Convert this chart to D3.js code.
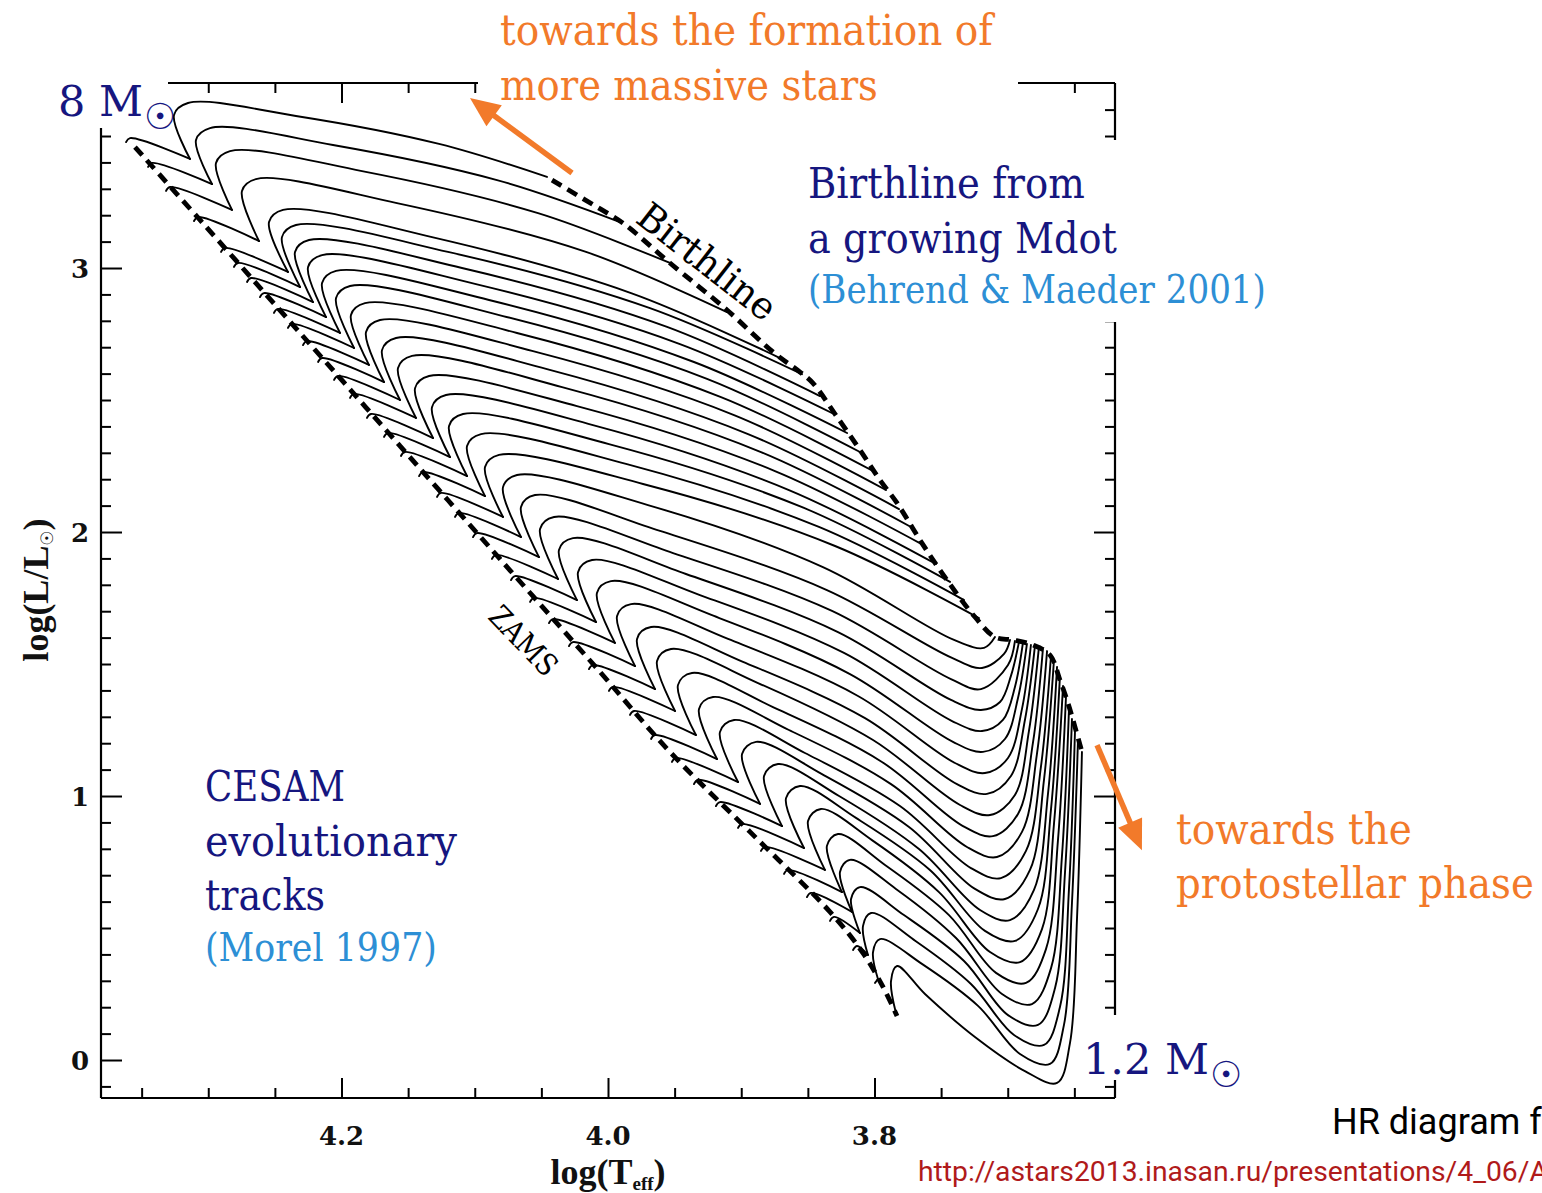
<!DOCTYPE html>
<html>
<head>
<meta charset="utf-8">
<script src="https://cdn.jsdelivr.net/npm/d3@7"></script>
<style>
  html, body { margin: 0; padding: 0; background: #fff; overflow: hidden; }
  svg { display: block; }
</style>
</head>
<body>
<svg id="chart" width="1542" height="1193"></svg>
<script>
// ---- axis ticks ----
const tempMajorTicks = [4.2, 4.0, 3.8];
const tempTickLabels = ["4.2", "4.0", "3.8"];
const tempMinorTicks = [4.35, 4.30, 4.25, 4.15, 4.10, 4.05, 3.95, 3.90, 3.85, 3.75, 3.70, 3.65];
const lumMajorTicks = [0, 1, 2, 3];
const lumTickLabels = ["0", "1", "2", "3"];
const lumMinorTicks = [-0.1, 0.1, 0.2, 0.3, 0.4, 0.5, 0.6, 0.7, 0.8, 0.9, 1.1, 1.2, 1.3, 1.4, 1.5, 1.6, 1.7, 1.8, 1.9,
                       2.1, 2.2, 2.3, 2.4, 2.5, 2.6, 2.7, 2.8, 2.9, 3.1, 3.2, 3.3, 3.4, 3.5, 3.6];

// ---- birthline (Behrend & Maeder 2001), [log Teff, log L/Lsun] ----
const birthline = [[4.0420,3.333],[4.0083,3.231],[3.9887,3.170],[3.9535,3.019],[3.9107,2.841],[3.8762,2.682],
  [3.8559,2.606],[3.8462,2.564],[3.8281,2.436],[3.8109,2.311],[3.7959,2.197],[3.7831,2.110],[3.7644,1.958],
  [3.7456,1.818],[3.7246,1.678],[3.7096,1.602],[3.6961,1.591],[3.6811,1.572],[3.6683,1.534],[3.6608,1.439],
  [3.6548,1.352],[3.6495,1.261],[3.6443,1.167]];

// ---- zero-age main sequence ----
const zams = [[4.3550,3.458],[4.3062,3.182],[4.2311,2.754],[4.1561,2.326],[4.0811,1.898],[4.0060,1.470],
  [3.9535,1.167],[3.8934,0.864],[3.8334,0.561],[3.8086,0.405],[3.7936,0.277],[3.7831,0.167]];

// ---- CESAM pre-main-sequence tracks, 8 Msun (first) to 1.2 Msun (last) ----
// each track: [path from the birthline to the cusp, path from the cusp onto the ZAMS]
const tracks = [
  [[[4.0458,3.345],[4.1268,3.470],[4.2342,3.576],[4.3152,3.625],[4.3257,3.580],[4.3137,3.413]],[[4.3587,3.492],[4.3617,3.477]]],
  [[[3.9910,3.174],[4.0833,3.333],[4.2064,3.466],[4.2987,3.530],[4.3092,3.485],[4.2972,3.318]],[[4.3422,3.398],[4.3452,3.383]]],
  [[[3.9535,3.019],[4.0525,3.208],[4.1846,3.367],[4.2837,3.443],[4.2942,3.398],[4.2822,3.220]],[[4.3287,3.307],[4.3317,3.292]]],
  [[[3.9107,2.833],[4.0165,3.061],[4.1584,3.246],[4.2642,3.337],[4.2747,3.292],[4.2619,3.102]],[[4.3077,3.193],[4.3107,3.178]]],
  [[[3.8709,2.659],[3.9827,2.905],[4.1321,3.117],[4.2439,3.220],[4.2544,3.174],[4.2402,2.985]],[[4.2874,3.076],[4.2904,3.061]]],
  [[[3.8544,2.598],[3.9685,2.848],[4.1201,3.061],[4.2342,3.163],[4.2447,3.117],[4.2311,2.928]],[[4.2777,3.019],[4.2807,3.004]]],
  [[[3.8409,2.515],[3.9557,2.777],[4.1096,3.000],[4.2244,3.106],[4.2349,3.061],[4.2214,2.871]],[[4.2679,2.962],[4.2709,2.947]]],
  [[[3.8304,2.447],[3.9460,2.712],[4.0991,2.939],[4.2146,3.049],[4.2251,3.004],[4.2116,2.814]],[[4.2582,2.905],[4.2612,2.890]]],
  [[[3.8206,2.375],[3.9355,2.644],[4.0893,2.879],[4.2041,2.989],[4.2146,2.943],[4.2011,2.754]],[[4.2477,2.845],[4.2507,2.830]]],
  [[[3.8109,2.303],[3.9257,2.580],[4.0788,2.818],[4.1936,2.932],[4.2041,2.886],[4.1906,2.697]],[[4.2372,2.788],[4.2402,2.773]]],
  [[[3.8011,2.231],[3.9152,2.511],[4.0683,2.754],[4.1824,2.867],[4.1929,2.822],[4.1794,2.633]],[[4.2259,2.723],[4.2289,2.708]]],
  [[[3.7914,2.159],[3.9054,2.443],[4.0570,2.686],[4.1711,2.803],[4.1816,2.758],[4.1681,2.568]],[[4.2146,2.659],[4.2176,2.644]]],
  [[[3.7816,2.087],[3.8949,2.371],[4.0458,2.617],[4.1591,2.735],[4.1696,2.689],[4.1561,2.500]],[[4.2026,2.591],[4.2056,2.576]]],
  [[[3.7726,2.019],[3.8852,2.303],[4.0345,2.549],[4.1471,2.667],[4.1576,2.621],[4.1441,2.432]],[[4.1906,2.523],[4.1936,2.508]]],
  [[[3.7636,1.951],[3.8747,2.231],[4.0233,2.477],[4.1343,2.591],[4.1448,2.545],[4.1313,2.356]],[[4.1779,2.447],[4.1809,2.432]]],
  [[[3.7539,1.879],[3.8642,2.159],[4.0113,2.405],[4.1216,2.519],[4.1321,2.473],[4.1186,2.284]],[[4.1651,2.375],[4.1681,2.360]]],
  [[[3.7433,1.811],[3.8529,2.091],[3.9993,2.333],[4.1088,2.447],[4.1193,2.402],[4.1058,2.212]],[[4.1524,2.303],[4.1554,2.288]]],
  [[[3.7328,1.742],[3.8417,2.019],[3.9865,2.258],[4.0953,2.371],[4.1058,2.326],[4.0923,2.136]],[[4.1388,2.227],[4.1418,2.212]]],
  [[[3.7216,1.674],[3.8296,1.947],[3.9737,2.182],[4.0818,2.292],[4.0923,2.246],[4.0788,2.057]],[[4.1253,2.148],[4.1283,2.133]]],
  [[[3.7096,1.602],[3.7178,1.561],[3.7403,1.591],[3.8387,1.867],[3.9700,2.102],[4.0683,2.216],[4.0788,2.170],[4.0653,1.981]],[[4.1118,2.072],[4.1148,2.057]]],
  [[[3.6983,1.591],[3.7028,1.538],[3.7193,1.485],[3.7418,1.523],[3.8357,1.780],[3.9610,2.004],[4.0548,2.140],[4.0653,2.095],[4.0518,1.905]],[[4.0983,1.996],[4.1013,1.981]]],
  [[[3.6946,1.587],[3.6998,1.496],[3.7201,1.405],[3.7426,1.443],[3.8319,1.701],[3.9512,1.920],[4.0405,2.057],[4.0510,2.011],[4.0375,1.822]],[[4.0841,1.913],[4.0871,1.898]]],
  [[[3.6916,1.583],[3.6976,1.455],[3.7058,1.356],[3.7201,1.326],[3.7426,1.364],[3.8274,1.621],[3.9415,1.841],[4.0263,1.977],[4.0368,1.932],[4.0233,1.742]],[[4.0698,1.833],[4.0728,1.818]]],
  [[[3.6886,1.580],[3.6946,1.413],[3.7036,1.288],[3.7193,1.246],[3.7418,1.284],[3.8229,1.542],[3.9310,1.761],[4.0120,1.894],[4.0225,1.848],[4.0090,1.659]],[[4.0555,1.750],[4.0585,1.735]]],
  [[[3.6856,1.576],[3.6923,1.371],[3.7021,1.216],[3.7186,1.167],[3.7411,1.205],[3.8184,1.462],[3.9205,1.682],[3.9978,1.814],[4.0083,1.769],[3.9948,1.580]],[[4.0413,1.670],[4.0443,1.655]]],
  [[[3.6826,1.572],[3.6893,1.330],[3.6998,1.144],[3.7171,1.087],[3.7396,1.125],[3.8124,1.379],[3.9099,1.595],[3.9827,1.727],[3.9932,1.682],[3.9797,1.492]],[[4.0263,1.583],[4.0293,1.568]]],
  [[[3.6796,1.568],[3.6871,1.288],[3.6976,1.076],[3.7156,1.008],[3.7381,1.045],[3.8071,1.295],[3.8987,1.508],[3.9677,1.640],[3.9782,1.595],[3.9647,1.405]],[[4.0113,1.496],[4.0143,1.481]]],
  [[[3.6766,1.564],[3.6841,1.246],[3.6946,1.004],[3.7133,0.928],[3.7358,0.966],[3.8011,1.212],[3.8874,1.428],[3.9527,1.557],[3.9632,1.511],[3.9497,1.322]],[[3.9963,1.413],[3.9993,1.398]]],
  [[[3.6736,1.557],[3.6811,1.201],[3.6923,0.932],[3.7111,0.848],[3.7336,0.886],[3.7944,1.129],[3.8762,1.337],[3.9370,1.466],[3.9475,1.420],[3.9340,1.231]],[[3.9805,1.322],[3.9835,1.307]]],
  [[[3.6705,1.549],[3.6781,1.159],[3.6893,0.864],[3.7081,0.769],[3.7306,0.807],[3.7876,1.045],[3.8642,1.250],[3.9212,1.375],[3.9317,1.330],[3.9182,1.140]],[[3.9647,1.231],[3.9677,1.216]]],
  [[[3.6675,1.534],[3.6751,1.110],[3.6863,0.792],[3.7051,0.689],[3.7276,0.727],[3.7809,0.962],[3.8522,1.163],[3.9054,1.288],[3.9160,1.242],[3.9024,1.053]],[[3.9490,1.144],[3.9520,1.129]]],
  [[[3.6653,1.515],[3.6728,1.061],[3.6833,0.720],[3.7021,0.610],[3.7246,0.648],[3.7741,0.883],[3.8394,1.083],[3.8889,1.205],[3.8994,1.159],[3.8859,0.970]],[[3.9325,1.061],[3.9355,1.045]]],
  [[[3.6630,1.489],[3.6698,1.008],[3.6803,0.644],[3.6983,0.530],[3.7208,0.568],[3.7666,0.799],[3.8266,1.000],[3.8724,1.121],[3.8829,1.076],[3.8694,0.886]],[[3.9160,0.977],[3.9190,0.962]]],
  [[[3.6608,1.455],[3.6675,0.951],[3.6773,0.572],[3.6946,0.451],[3.7171,0.489],[3.7584,0.720],[3.8139,0.917],[3.8559,1.038],[3.8664,0.992],[3.8529,0.803]],[[3.8994,0.894],[3.9024,0.879]]],
  [[[3.6585,1.417],[3.6653,0.894],[3.6743,0.496],[3.6908,0.371],[3.7133,0.409],[3.7516,0.636],[3.8019,0.833],[3.8402,0.951],[3.8499,0.905],[3.8372,0.720]],[[3.8822,0.807],[3.8852,0.792]]],
  [[[3.6563,1.375],[3.6623,0.833],[3.6713,0.420],[3.6863,0.292],[3.7088,0.330],[3.7441,0.549],[3.7921,0.739],[3.8274,0.856],[3.8357,0.811],[3.8244,0.636]],[[3.8649,0.720],[3.8679,0.705]]],
  [[[3.6540,1.333],[3.6593,0.773],[3.6675,0.348],[3.6818,0.212],[3.7043,0.250],[3.7388,0.462],[3.7839,0.648],[3.8184,0.758],[3.8259,0.712],[3.8169,0.561]],[[3.8477,0.633],[3.8507,0.617]]],
  [[[3.6518,1.292],[3.6570,0.712],[3.6645,0.273],[3.6773,0.133],[3.6998,0.170],[3.7328,0.375],[3.7779,0.549],[3.8109,0.655],[3.8176,0.610],[3.8109,0.481]],[[3.8304,0.542],[3.8334,0.527]]],
  [[[3.6495,1.250],[3.6540,0.652],[3.6608,0.201],[3.6728,0.057],[3.6953,0.095],[3.7276,0.288],[3.7704,0.455],[3.8026,0.557],[3.8086,0.508],[3.8049,0.398]],[[3.8131,0.432],[3.8161,0.417]]],
  [[[3.6473,1.208],[3.6518,0.595],[3.6578,0.133],[3.6683,-0.015],[3.6908,0.023],[3.7223,0.205],[3.7644,0.364],[3.7959,0.458],[3.8011,0.409],[3.7974,0.307]],[[3.7996,0.292]]],
  [[[3.6443,1.167],[3.6480,0.538],[3.6533,0.064],[3.6630,-0.087],[3.6871,-0.042],[3.7246,0.087],[3.7621,0.250],[3.7831,0.356],[3.7876,0.299],[3.7839,0.178]],[]]
];

// ---- annotation arrows: [from, to] in [log Teff, log L] ----
const arrowMassive = [[4.0270, 3.360], [4.1036, 3.644]];
const arrowProtostellar = [[3.6330, 1.193], [3.5993, 0.795]];

// ---------------------------------------------------------------
const svg = d3.select("#chart");
const W = 1542, H = 1193;
const plot = { left: 101, right: 1115, top: 83, bottom: 1098 };

const x = d3.scaleLinear().domain([4.3805, 3.6195]).range([plot.left, plot.right]);
const y = d3.scaleLinear().domain([-0.1439, 3.7008]).range([plot.bottom, plot.top]);

const NAVY = "#16167f", LIGHTBLUE = "#2d8fd5", ORANGE = "#f27a2a", BLACK = "#000";
const SERIF = "'DejaVu Serif', serif";
const AXISFONT = "'Liberation Serif', 'Times New Roman', serif";
const SUNFONT = "'DejaVu Sans', sans-serif";

svg.append("rect").attr("width", W).attr("height", H).attr("fill", "#fff");

// ---- frame and ticks ----
const frame = svg.append("g").attr("stroke", BLACK).attr("stroke-width", 2.2).attr("fill", "none");
frame.append("line").attr("x1", plot.left).attr("x2", plot.right).attr("y1", plot.top).attr("y2", plot.top);
frame.append("line").attr("x1", plot.left).attr("x2", plot.right).attr("y1", plot.bottom).attr("y2", plot.bottom);
frame.append("line").attr("x1", plot.left).attr("x2", plot.left).attr("y1", plot.top).attr("y2", plot.bottom);
frame.append("line").attr("x1", plot.right).attr("x2", plot.right).attr("y1", plot.top).attr("y2", plot.bottom);

function tickAxis(axisFn, scale, values, size, transform) {
  const g = svg.append("g").attr("transform", transform)
    .call(axisFn(scale).tickValues(values).tickSize(size).tickFormat(""));
  g.select(".domain").remove();
  g.selectAll(".tick line").attr("stroke", BLACK).attr("stroke-width", 2);
}
tickAxis(d3.axisBottom, x, tempMajorTicks, -20, `translate(0,${plot.bottom})`);
tickAxis(d3.axisBottom, x, tempMinorTicks, -10, `translate(0,${plot.bottom})`);
tickAxis(d3.axisTop, x, tempMajorTicks, -20, `translate(0,${plot.top})`);
tickAxis(d3.axisTop, x, tempMinorTicks, -10, `translate(0,${plot.top})`);
tickAxis(d3.axisLeft, y, lumMajorTicks, -21, `translate(${plot.left},0)`);
tickAxis(d3.axisLeft, y, lumMinorTicks, -10, `translate(${plot.left},0)`);
tickAxis(d3.axisRight, y, lumMajorTicks, -21, `translate(${plot.right},0)`);
tickAxis(d3.axisRight, y, lumMinorTicks, -10, `translate(${plot.right},0)`);

// tick labels
svg.append("g").selectAll("text").data(tempMajorTicks).join("text")
  .attr("x", d => x(d)).attr("y", 1145).attr("text-anchor", "middle")
  .attr("font-family", SERIF).attr("font-weight", "bold").attr("font-size", 26).attr("fill", "#111")
  .text((d, i) => tempTickLabels[i]);
svg.append("g").selectAll("text").data(lumMajorTicks).join("text")
  .attr("x", 89).attr("y", d => y(d) + 10).attr("text-anchor", "end")
  .attr("font-family", SERIF).attr("font-weight", "bold").attr("font-size", 26).attr("fill", "#111")
  .text((d, i) => lumTickLabels[i]);

// axis titles
const xt = svg.append("text").attr("x", 608).attr("y", 1184).attr("text-anchor", "middle")
  .attr("font-family", AXISFONT).attr("font-weight", "bold").attr("font-size", 36).attr("fill", "#111");
xt.append("tspan").text("log(T");
xt.append("tspan").attr("font-size", 19).attr("dy", 6).text("eff");
xt.append("tspan").attr("dy", -6).text(")");

const yt = svg.append("text").attr("transform", "translate(48,590) rotate(-90)").attr("text-anchor", "middle")
  .attr("font-family", AXISFONT).attr("font-weight", "bold").attr("font-size", 36).attr("fill", "#111");
yt.append("tspan").text("log(L/L");
yt.append("tspan").attr("font-size", 17).attr("dy", 5).attr("font-weight", "normal").attr("font-family", SUNFONT).text("\u2609");
yt.append("tspan").attr("dy", -5).text(")");

// white boxes behind the annotations that sit on the frame
const masks = [[0, 0, 168, 128], [478, 0, 540, 110], [795, 140, 495, 182], [1080, 1015, 160, 65]];
svg.append("g").selectAll("rect").data(masks).join("rect")
  .attr("x", d => d[0]).attr("y", d => d[1]).attr("width", d => d[2]).attr("height", d => d[3])
  .attr("fill", "#fff");

// ---- tracks ----
const line = d3.line().x(d => x(d[0])).y(d => y(d[1])).curve(d3.curveCatmullRom.alpha(0.5));
const trackG = svg.append("g").attr("fill", "none").attr("stroke", BLACK)
  .attr("stroke-width", 1.9).attr("stroke-linejoin", "round").attr("stroke-linecap", "round");
tracks.forEach(([head, tail]) => {
  trackG.append("path").attr("d", line(head));
  if (tail.length) trackG.append("path").attr("d", line([head[head.length - 1], ...tail]));
});

// ---- birthline and ZAMS ----
const dashG = svg.append("g").attr("fill", "none").attr("stroke", BLACK)
  .attr("stroke-width", 4.8).attr("stroke-dasharray", "11,7");
dashG.append("path").attr("d", line(birthline));
dashG.append("path").attr("d", line(zams));

// ---- arrows ----
function arrow(pts) {
  const [x1, y1] = [x(pts[0][0]), y(pts[0][1])];
  const [x2, y2] = [x(pts[1][0]), y(pts[1][1])];
  const a = Math.atan2(y2 - y1, x2 - x1), L = 30, hw = 13;
  const bx = x2 - L * Math.cos(a), by = y2 - L * Math.sin(a);
  svg.append("line").attr("x1", x1).attr("y1", y1).attr("x2", bx + 2 * Math.cos(a)).attr("y2", by + 2 * Math.sin(a))
    .attr("stroke", ORANGE).attr("stroke-width", 5.5);
  svg.append("polygon").attr("fill", ORANGE)
    .attr("points", [[x2, y2], [bx - hw * Math.sin(a), by + hw * Math.cos(a)], [bx + hw * Math.sin(a), by - hw * Math.cos(a)]].map(p => p.join(",")).join(" "));
}
arrow(arrowMassive);
arrow(arrowProtostellar);

// ---- text annotations: set in DejaVu Serif, narrowed horizontally to the wanted width ----
function txt(s, px, py, size, color, len, family) {
  const t = svg.append("text").attr("x", 0).attr("y", 0)
    .attr("font-family", family || SERIF).attr("font-size", size).attr("fill", color).text(s);
  let sx = 1;
  if (len) sx = len / t.node().getComputedTextLength();
  t.attr("transform", `translate(${px},${py}) scale(${sx},1)`);
  return t;
}
txt("towards the formation of", 500, 45, 42, ORANGE, 493);
txt("more massive stars", 500, 100, 42, ORANGE, 378);
txt("Birthline from", 808, 198, 42, NAVY, 277);
txt("a growing Mdot", 808, 253, 42, NAVY, 309);
txt("(Behrend & Maeder 2001)", 808, 303, 39, LIGHTBLUE, 458);
txt("CESAM", 205, 801, 42, NAVY, 140);
txt("evolutionary", 205, 856, 42, NAVY, 252);
txt("tracks", 205, 910, 42, NAVY, 120);
txt("(Morel 1997)", 205, 961, 39, LIGHTBLUE, 232);
txt("towards the", 1176, 844, 42, ORANGE, 236);
txt("protostellar phase", 1176, 898, 42, ORANGE, 358);

// mass labels: "M" followed by the solar symbol as a lowered glyph
function massLabel(s, px, py) {
  const t = svg.append("text").attr("x", px).attr("y", py)
    .attr("font-family", SERIF).attr("font-size", 43).attr("fill", NAVY);
  t.append("tspan").text(s);
  t.append("tspan").attr("font-family", SUNFONT).attr("font-size", 36).attr("dx", 1).attr("dy", 13).text("\u2609");
}
massLabel("8 M", 58, 116);
massLabel("1.2 M", 1083, 1074);

// curve labels
svg.append("text").attr("transform", "translate(699,272) rotate(38)").attr("text-anchor", "middle")
  .attr("font-family", SERIF).attr("font-size", 38).attr("fill", BLACK)
  .attr("textLength", 165).attr("lengthAdjust", "spacingAndGlyphs").text("Birthline");
svg.append("text").attr("transform", "translate(516,648) rotate(46)").attr("text-anchor", "middle")
  .attr("font-family", SERIF).attr("font-size", 30).attr("fill", BLACK)
  .attr("textLength", 84).attr("lengthAdjust", "spacingAndGlyphs").text("ZAMS");

// caption and source
txt("HR diagram from", 1332, 1134, 36, BLACK, null, "Roboto, 'DejaVu Sans', sans-serif");
txt("http://astars2013.inasan.ru/presentations/4_06/A", 918, 1181, 27, "#b01a1a", 630, "Roboto, 'DejaVu Sans', sans-serif");
</script>
</body>
</html>
